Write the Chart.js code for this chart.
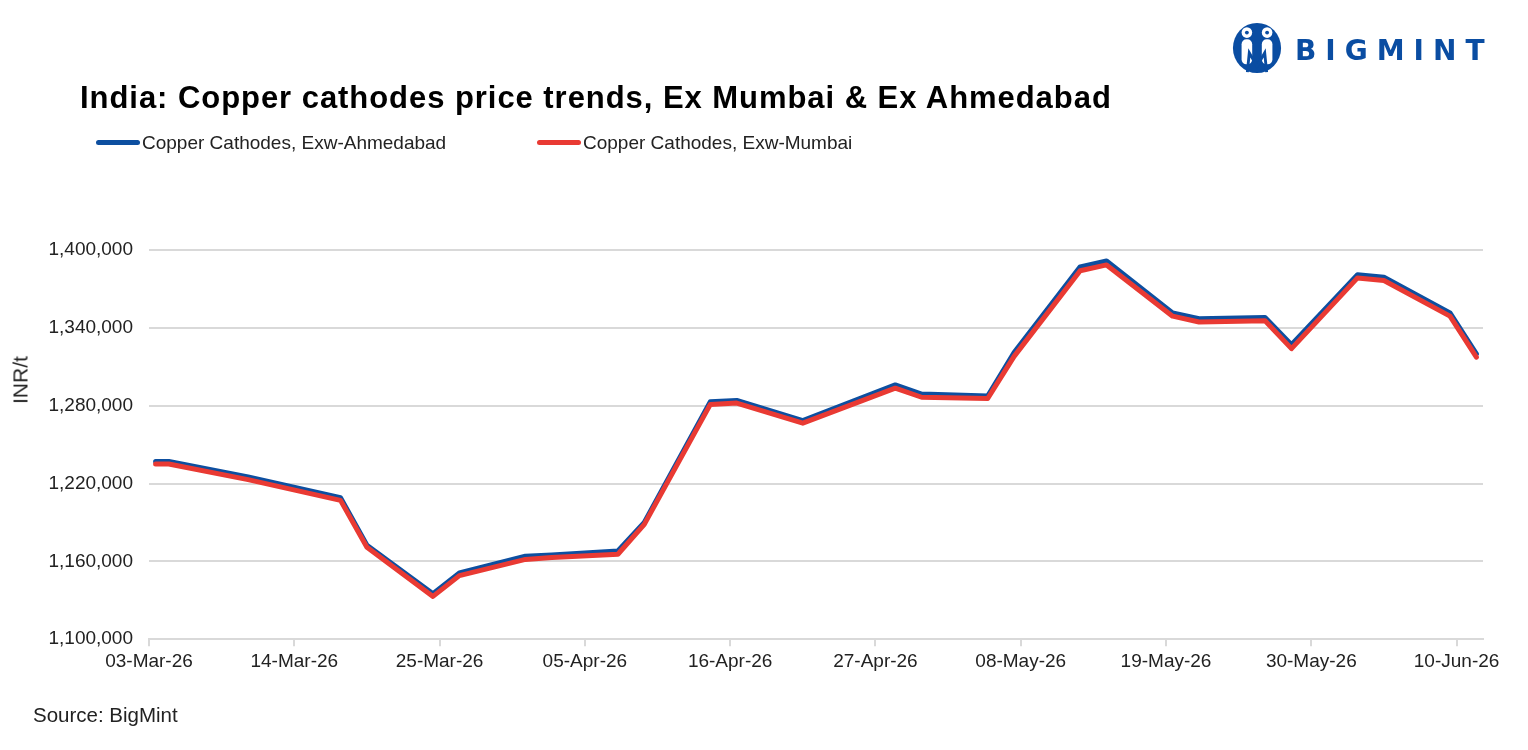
<!DOCTYPE html>
<html>
<head>
<meta charset="utf-8">
<script src="https://cdn.jsdelivr.net/npm/chart.js@4.4.1/dist/chart.umd.min.js"></script>
<style>
  body { margin: 0; background: #fff; font-family: "Liberation Sans", Arial, sans-serif; }
  #wrap { position: relative; width: 1528px; height: 750px; overflow: hidden; }
  #chart { position: absolute; left: 0; top: 0; }
  .title { position: absolute; left: 80px; top: 82px; font-size: 31px; font-weight: bold; color: #000; white-space: nowrap; line-height: 1; letter-spacing: 0.95px; }
  .legend { position: absolute; top: 132px; font-size: 19px; color: #222; white-space: nowrap; line-height: 22px; }
  .legend .swatch { display: inline-block; width: 44px; height: 5px; border-radius: 3px; vertical-align: middle; margin-right: 2px; position: relative; top: -1px; }
  .ytitle { position: absolute; left: 20px; top: 380px; font-size: 21px; color: #222; white-space: nowrap; transform: translate(-50%, -50%) rotate(-90deg); line-height: 1; }
  .source { position: absolute; left: 33px; top: 703px; font-size: 20.5px; color: #222; }
  .logo { position: absolute; left: 1231px; top: 22px; }
  .logo-text { position: absolute; left: 1295px; top: 37px; font-family: "DejaVu Sans", sans-serif; font-size: 28px; font-weight: bold; color: #0a4da2; letter-spacing: 9px; line-height: 1; }
</style>
</head>
<body>
<div id="wrap">
  <canvas id="chart" width="1528" height="750"></canvas>
  <svg class="logo" width="52" height="52" viewBox="0 0 54 54">
    <ellipse cx="27" cy="27" rx="25" ry="26" fill="#0a4da2"/>
    <rect x="11" y="18" width="11" height="26" rx="5" fill="#fff"/>
    <rect x="32" y="18" width="11" height="26" rx="5" fill="#fff"/>
    <circle cx="16.5" cy="11" r="5.5" fill="#fff"/>
    <circle cx="37.5" cy="11" r="5.5" fill="#fff"/>
    <circle cx="16.5" cy="11" r="2" fill="#0a4da2"/>
    <circle cx="37.5" cy="11" r="2" fill="#0a4da2"/>
    <path d="M17 52 L19 32 L27 46 L35 32 L37 52" stroke="#0a4da2" stroke-width="3" fill="none"/>
  </svg>
  <div class="logo-text">BIGMINT</div>
  <div class="title">India: Copper cathodes price trends, Ex Mumbai &amp; Ex Ahmedabad</div>
  <div class="legend" style="left:96px"><span class="swatch" style="background:#0d4fa0"></span>Copper Cathodes, Exw-Ahmedabad</div>
  <div class="legend" style="left:537px"><span class="swatch" style="background:#e93a33"></span>Copper Cathodes, Exw-Mumbai</div>
  <div class="ytitle">INR/t</div>
  <div class="source">Source: BigMint</div>
</div>
<script>
// price dates (Tue / Thu assessments)
const dates = ["2026-03-03", "2026-03-04", "2026-03-10", "2026-03-17", "2026-03-19", "2026-03-24", "2026-03-26",
  "2026-03-31", "2026-04-02", "2026-04-07", "2026-04-09", "2026-04-14", "2026-04-16", "2026-04-21",
  "2026-04-28", "2026-04-30", "2026-05-05", "2026-05-07", "2026-05-12", "2026-05-14", "2026-05-19",
  "2026-05-21", "2026-05-26", "2026-05-28", "2026-06-02", "2026-06-04", "2026-06-09", "2026-06-11"];

const ahmedabad = [1237000, 1237000, 1225000, 1209000, 1172500, 1135000, 1151000,
  1164000, 1165000, 1168000, 1190000, 1283000, 1284000, 1268500,
  1296000, 1289000, 1287500, 1321000, 1387000, 1391500, 1351500,
  1347000, 1348000, 1327000, 1381000, 1379000, 1351500, 1320000];

const mumbai = [1235000, 1235000, 1223000, 1207000, 1170800, 1133000, 1149000,
  1161500, 1163000, 1165500, 1188500, 1281000, 1282000, 1266500,
  1293500, 1286500, 1285500, 1318000, 1384000, 1388500, 1349000,
  1344500, 1345500, 1324000, 1378500, 1376500, 1349000, 1317500];

const axisStart = "2026-03-03";
const axisEnd = "2026-06-12";
const xTickDates = ["2026-03-03", "2026-03-14", "2026-03-25", "2026-04-05", "2026-04-16",
  "2026-04-27", "2026-05-08", "2026-05-19", "2026-05-30", "2026-06-10"];
const yTicks = [1100000, 1160000, 1220000, 1280000, 1340000, 1400000];

const DAY = 86400000;
const MONTHS = ["Jan", "Feb", "Mar", "Apr", "May", "Jun", "Jul", "Aug", "Sep", "Oct", "Nov", "Dec"];
const t0 = Date.parse(axisStart);
const dayOf = s => Math.round((Date.parse(s) - t0) / DAY);

function fmtDay(d) {
    const dt = new Date(t0 + d * DAY);
    const dd = String(dt.getUTCDate()).padStart(2, "0");
    return dd + "-" + MONTHS[dt.getUTCMonth()] + "-" + String(dt.getUTCFullYear()).slice(2);
}

// excel date axis puts each day in the middle of its slot
const toPoints = vals => vals.map((v, i) => ({ x: dayOf(dates[i]) + 0.5, y: v }));

const font = { family: "'Liberation Sans', Arial, sans-serif", size: 19 };

new Chart(document.getElementById("chart"), {
    type: "line",
    data: {
        datasets: [{
            label: "Copper Cathodes, Exw-Ahmedabad",
            data: toPoints(ahmedabad),
            borderColor: "#0d4fa0",
            borderWidth: 5,
            order: 2
        }, {
            label: "Copper Cathodes, Exw-Mumbai",
            data: toPoints(mumbai),
            borderColor: "#e93a33",
            borderWidth: 5,
            order: 1
        }]
    },
    options: {
        responsive: false,
        animation: false,
        layout: { padding: { top: 250, left: 0, right: 45, bottom: 73 } },
        elements: {
            point: { radius: 0 },
            line: { tension: 0, borderJoinStyle: "round", borderCapStyle: "round" }
        },
        plugins: {
            legend: { display: false },
            tooltip: { enabled: false }
        },
        scales: {
            x: {
                type: "linear",
                min: 0,
                max: dayOf(axisEnd),
                afterBuildTicks: s => { s.ticks = xTickDates.map(d => ({ value: dayOf(d) })); },
                ticks: {
                    autoSkip: false,
                    maxRotation: 0,
                    padding: 4,
                    color: "#222",
                    font: font,
                    callback: v => fmtDay(v)
                },
                grid: { drawOnChartArea: false, color: "#d9d9d9", lineWidth: 2, tickLength: 7 },
                border: { display: true, color: "#d9d9d9", width: 2 }
            },
            y: {
                min: yTicks[0],
                max: yTicks[yTicks.length - 1],
                afterBuildTicks: s => { s.ticks = yTicks.map(v => ({ value: v })); },
                afterFit: s => { s.width = 149; },
                ticks: {
                    padding: 16,
                    color: "#222",
                    font: font,
                    callback: v => v.toLocaleString("en-US")
                },
                grid: { color: "#d9d9d9", lineWidth: 2, drawTicks: false },
                border: { display: false }
            }
        }
    }
});
</script>
</body>
</html>
